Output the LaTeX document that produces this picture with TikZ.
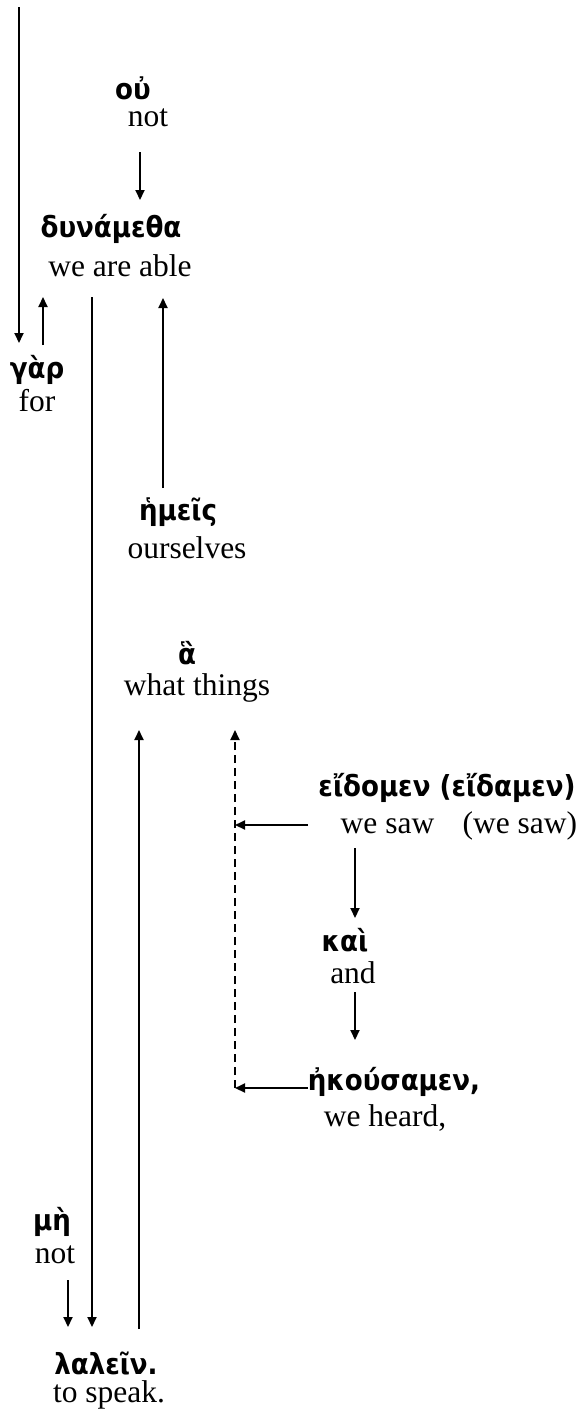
\documentclass[tikz,border=0pt]{standalone}
\usepackage{fontspec}
\setmainfont{Liberation Serif}
\newfontfamily\gkfont[Script=Greek]{DejaVu Sans Condensed}
\usepackage{tikz}
\usetikzlibrary{arrows.meta}
\tikzset{every picture/.style={line width=1pt}}
\tikzset{
  gk/.style={inner sep=0.75pt, font=\gkfont\bfseries\fontsize{14.5}{16}\selectfont},
  en/.style={inner sep=0.75pt, font=\fontsize{15.75}{18}\selectfont},
  arr/.style={-{Triangle[length=5pt,width=4.5pt]}},
  dasharr/.style={arr, dash pattern=on 4pt off 2.5pt}
}

\begin{document}
\begin{tikzpicture}[x=0.5pt,y=0.5pt,yscale=-1]
\useasboundingbox (0,0) rectangle (587,1414);

% Text Node
\node [gk] (ou) at (133,88) {οὐ};
\node [en] (ouEn) at (148,118) {not};
% Text Node
\node [gk] (dyn) at (111,229) {δυνάμεθα};
\node [en] (dynEn) at (120,266) {we are able};
% Text Node
\node [gk] (gar) at (37,370) {γὰρ};
\node [en] (garEn) at (37,401) {for};
% Text Node
\node [gk] (hmeis) at (178,512) {ἡμεῖς};
\node [en] (hmeisEn) at (187,548) {ourselves};
% Text Node
\node [gk] (ha) at (187,653) {ἃ};
\node [en] (haEn) at (197,688) {what things};
% Text Node
\node [gk] (eidomen) at (447,788) {εἴδομεν (εἴδαμεν)};
\node [en] (eidomenEn) at (459,826) {we saw\hspace{0.9em}(we saw)};
% Text Node
\node [gk] (kai) at (345,940) {καὶ};
\node [en] (kaiEn) at (353,973) {and};
% Text Node
\node [gk] (hkousamen) at (394,1082) {ἠκούσαμεν,};
\node [en] (hkousamenEn) at (385,1118) {we heard,};
% Text Node
\node [gk] (mh) at (52,1222) {μὴ};
\node [en] (mhEn) at (55,1255) {not};
% Text Node
\node [gk] (lalein) at (106,1363) {λαλεῖν.};
\node [en] (laleinEn) at (109,1395) {to speak.};

% arrow ends
\coordinate (top) at (19,7);
\coordinate (garN) at (19,343);
\coordinate (ouS) at (140,152);
\coordinate (dynN) at (140,200);
\coordinate (garUp) at (43,345);
\coordinate (dynL) at (43,297);
\coordinate (dynS) at (92,297);
\coordinate (laleinN) at (92,1327);
\coordinate (hmeisN) at (163,488);
\coordinate (dynR) at (163,298);
\coordinate (laleinUp) at (139,1329);
\coordinate (haS) at (139,730);
\coordinate (dashB) at (235,1088);
\coordinate (dashT) at (235,730);
\coordinate (eidW) at (308,825);
\coordinate (dashM) at (235,825);
\coordinate (hkW) at (308,1088);
\coordinate (eidS) at (355,848);
\coordinate (kaiN) at (355,918);
\coordinate (kaiS) at (355,992);
\coordinate (hkN) at (355,1040);
\coordinate (mhS) at (68,1280);
\coordinate (laleinL) at (68,1327);

%Straight Lines
\draw [arr] (top) -- (garN);
\draw [arr] (ouS) -- (dynN);
\draw [arr] (garUp) -- (dynL);
\draw [arr] (dynS) -- (laleinN);
\draw [arr] (hmeisN) -- (dynR);
\draw [arr] (laleinUp) -- (haS);
\draw [dasharr] (dashB) -- (dashT);
\draw [arr] (eidW) -- (dashM);
\draw [arr] (hkW) -- (dashB);
\draw [arr] (eidS) -- (kaiN);
\draw [arr] (kaiS) -- (hkN);
\draw [arr] (mhS) -- (laleinL);

\end{tikzpicture}
\end{document}
